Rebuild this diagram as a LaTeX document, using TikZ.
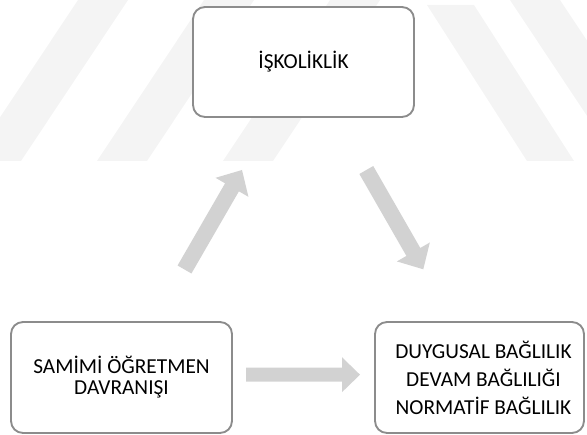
\documentclass[tikz,border=0pt]{standalone}
\usepackage{fontspec}
\setmainfont{Carlito}
\usetikzlibrary{calc}

\definecolor{boxline}{HTML}{8C8C8C}
\definecolor{arrowfill}{HTML}{D2D2D2}
\definecolor{markband}{HTML}{F4F4F4}

% Block arrow from #1 (tail centre) to #2 (tip):
% #3 shaft half-width, #4 head half-width, #5 head length
\newcommand\blockarrow[5]{%
  \coordinate (#2-base) at ($(#2)!#5!(#1)$);
  \fill[arrowfill]
    ($(#1)!#3!90:(#2)$) -- ($(#2-base)!#3!90:(#2)$) --
    ($(#2-base)!#4!90:(#2)$) -- (#2) --
    ($(#2-base)!#4!-90:(#2)$) -- ($(#2-base)!#3!-90:(#2)$) --
    ($(#1)!#3!-90:(#2)$) -- cycle;
}

\tikzset{
  panel/.style={draw=boxline, line width=1.4pt, rounded corners=9pt,
    fill=white, align=center, inner sep=0pt},
  band/.style={fill=markband}
}

\begin{document}
\begin{tikzpicture}[x=0.75pt, y=-0.75pt]
\useasboundingbox (0,0) rectangle (587,435);

% faint diagonal background bands
\begin{scope}
  \clip (0,0) rectangle (587,161);
  \foreach \b in {-29,97,223}
    \fill[band] (\b,161) -- (\b+50,161) -- (\b+157,0) -- (\b+107,0) -- cycle;
  \fill[band] (527,161) -- (574,161) -- (474,5) -- (427,5) -- cycle;
  \fill[band] (617,161) -- (667,161) -- (560,0) -- (510,0) -- cycle;
\end{scope}

% boxes
\node[panel, minimum width=165.75pt, minimum height=82.5pt,
      font=\fontsize{16}{21}\selectfont] (work) at (303.5,62) {İŞKOLİKLİK};
\node[panel, minimum width=165.75pt, minimum height=83.25pt,
      font=\fontsize{16}{15.75}\selectfont] (teacher) at (121.5,377.5)
      {SAMİMİ ÖĞRETMEN\\DAVRANIŞI};
\node[panel, minimum width=156.75pt, minimum height=83.25pt,
      font=\fontsize{16}{21}\selectfont] (commit) at (479.5,377.5)
      {\hspace*{6pt}DUYGUSAL BAĞLILIK\\\hspace*{6pt}DEVAM BAĞLILIĞI\\\hspace*{6pt}NORMATİF BAĞLILIK};

% arrow end points
\coordinate (upTail) at (184.5,269.5);
\coordinate (upTip)  at (242,170);
\coordinate (dnTail) at (366.3,170);
\coordinate (dnTip)  at (423.3,269.3);
\coordinate (rtTail) at (246,374.7);
\coordinate (rtTip)  at (360,374.7);

\blockarrow{upTail}{upTip}{6pt}{14.25pt}{15pt}
\blockarrow{dnTail}{dnTip}{6pt}{14.25pt}{15pt}
\blockarrow{rtTail}{rtTip}{5.25pt}{13.1pt}{13.5pt}
\end{tikzpicture}
\end{document}
